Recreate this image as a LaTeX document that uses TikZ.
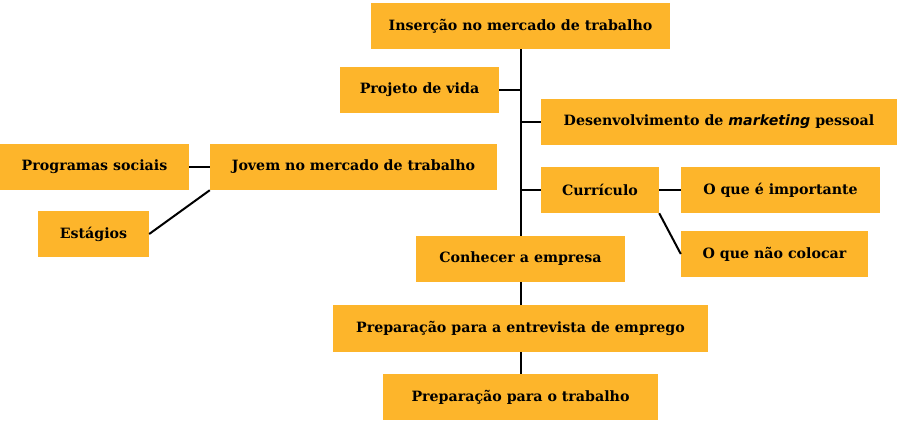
\documentclass[tikz,border=0pt]{standalone}
\usepackage{fontspec}
\setmainfont{DejaVu Serif}
\newfontfamily\italicsans{DejaVu Sans}
\usepackage{tikz}
\definecolor{orange1}{HTML}{FDB52B}

\begin{document}
\begin{tikzpicture}[x=1pt, y=-1pt, align=center,
  caixa/.style={fill=orange1, inner sep=0pt, minimum height=46pt, font=\bfseries\fontsize{14.2}{16}\selectfont},
  liga/.style={line width=2pt, black}]
\useasboundingbox (0,0) rectangle (900,424);

\node[caixa, minimum width=299pt] (insercao) at (520.5,26) {Inserção no mercado de trabalho};
\node[caixa, minimum width=159pt] (projeto) at (419.5,90) {Projeto de vida};
\node[caixa, minimum width=356pt] (desenv) at (719,122) {Desenvolvimento de {\italicsans\bfseries\itshape marketing} pessoal};
\node[caixa, minimum width=189pt] (programas) at (94.5,167) {Programas sociais};
\node[caixa, minimum width=287pt] (jovem) at (353.5,167) {Jovem no mercado de trabalho};
\node[caixa, minimum width=111pt] (estagios) at (93.5,234) {Estágios};
\node[caixa, minimum width=118pt] (curriculo) at (600,190) {Currículo};
\node[caixa, minimum width=199pt] (importante) at (780.5,190) {O que é importante};
\node[caixa, minimum width=187pt] (naocolocar) at (774.5,254) {O que não colocar};
\node[caixa, minimum width=209pt] (conhecer) at (520.5,259) {Conhecer a empresa};
\node[caixa, minimum width=375pt, minimum height=47pt] (entrevista) at (520.5,328.5) {Preparação para a entrevista de emprego};
\node[caixa, minimum width=275pt] (trabalho) at (520.5,397) {Preparação para o trabalho};

\draw[liga] (insercao.south) -- (conhecer.north);
\draw[liga] (conhecer.south) -- (entrevista.north);
\draw[liga] (entrevista.south) -- (trabalho.north);
\draw[liga] (projeto.east) -- (projeto.east -| insercao.south);
\draw[liga] (desenv.west) -- (desenv.west -| insercao.south);
\draw[liga] (curriculo.west) -- (curriculo.west -| insercao.south);
\draw[liga] (programas.east) -- (jovem.west);
\draw[liga] (estagios.east) -- (jovem.south west);
\draw[liga] (curriculo.east) -- (importante.west);
\draw[liga] (curriculo.south east) -- (naocolocar.west);
\end{tikzpicture}
\end{document}
